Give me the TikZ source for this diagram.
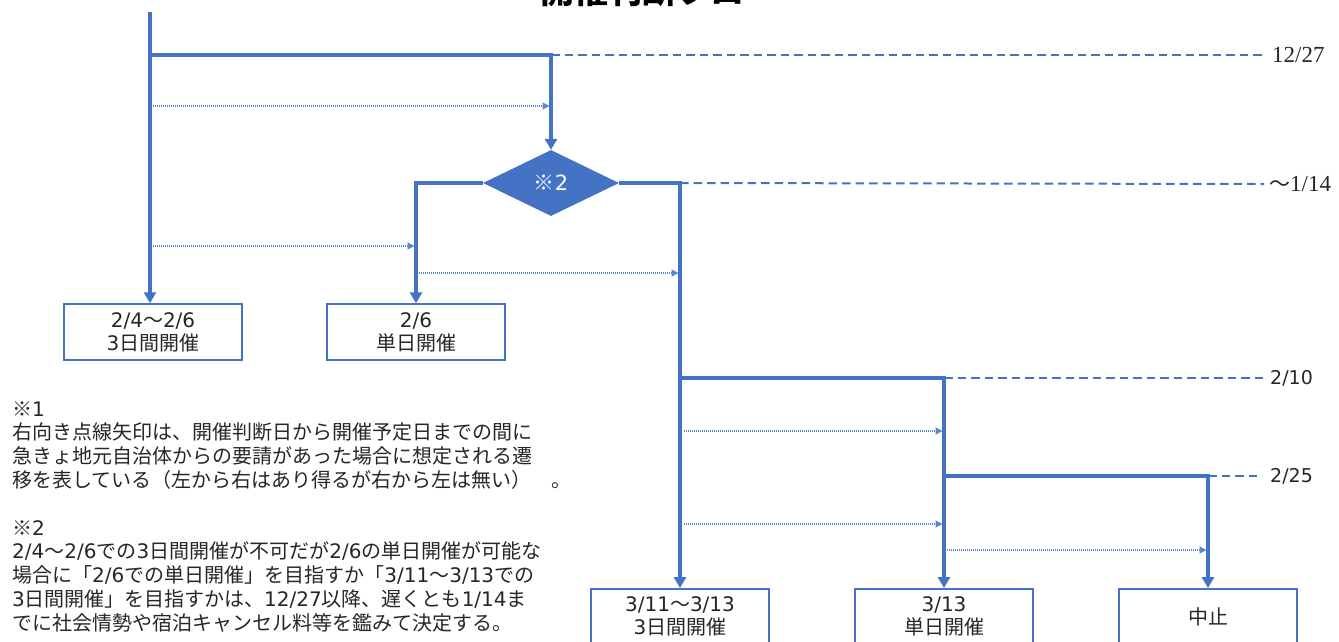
\documentclass[tikz,border=0pt]{standalone}
\usepackage{fontspec}
\setmainfont{Noto Sans CJK JP}
\newfontfamily\latf{DejaVu Sans}
\newfontfamily\serifd{Liberation Serif}
\usetikzlibrary{shapes.geometric,arrows.meta,calc}
\definecolor{mainblue}{HTML}{4472C4}
\definecolor{dotblue}{HTML}{5A86D3}
\definecolor{txt}{HTML}{262626}
\newcommand\Lt[1]{{\latf #1}}
\begin{document}
\begin{tikzpicture}[x=1pt,y=-1pt,
  flow/.style={mainblue,line width=3.5pt},
  flowarrow/.style={flow,-{Triangle[width=12pt,length=11pt]}},
  dateline/.style={mainblue,line width=2pt,dash pattern=on 8.5pt off 5pt},
  hintarrow/.style={dotblue,line width=1.2pt,dash pattern=on 1.2pt off 0.8pt,shorten >=1.5pt,-{Triangle[width=7pt,length=7pt]}},
  resultbox/.style={draw=mainblue,line width=1.5pt,minimum width=178pt,minimum height=56pt,inner sep=0pt,align=center,font=\fontsize{20}{23}\selectfont,text=txt},
  datelabel/.style={anchor=west,inner sep=0pt,text=txt},
]
\useasboundingbox (0,0) rectangle (1339,641);
\clip (0,0) rectangle (1339,641);

% title (cut off by the top edge, as in the reference)
\node[font=\fontsize{34}{40}\selectfont\bfseries,anchor=base,inner sep=0pt] (title) at (659,3.5) {開催判断フロー};

% result boxes
\node[resultbox] (b1) at (153,332) {\Lt{2/4}～\Lt{2/6}\\\Lt{3}日間開催};
\node[resultbox] (b2) at (416,332) {\Lt{2/6}\\単日開催};
\node[resultbox,anchor=north] (b3) at (680,588) {\Lt{3/11}～\Lt{3/13}\\\Lt{3}日間開催};
\node[resultbox,anchor=north] (b4) at (944,588) {\Lt{3/13}\\単日開催};
\node[resultbox,anchor=north] (b5) at (1208,588) {中止};

% decision diamond
\node[diamond,fill=mainblue,minimum width=136pt,minimum height=66pt,inner sep=0pt,text=white,font=\fontsize{21}{24}\selectfont] (dec) at (551,183) {※\Lt{2}};

% date labels
\node[datelabel,font=\serifd\fontsize{23}{26}\selectfont] (l1) at (1272,55) {12/27};
\node[datelabel,font=\fontsize{21}{24}\selectfont] (l2) at (1269,184) {～{\serifd\fontsize{23}{26}\selectfont 1/14}};
\node[datelabel,font=\latf\fontsize{19}{22}\selectfont] (l3) at (1270,378) {2/10};
\node[datelabel,font=\latf\fontsize{19}{22}\selectfont] (l4) at (1270,476) {2/25};

% junction coordinates
\coordinate (start) at (150,12);
\coordinate (br1) at (150,55);
\coordinate (br1r) at (551,55);
\coordinate (c2) at (680,183);
\coordinate (br3) at (680,378);
\coordinate (br3r) at (944,378);
\coordinate (br4) at (944,476);
\coordinate (br4r) at (1208,476);

% main flow
\draw[flowarrow] (start) -- (start |- b1.north);
\draw[flowarrow] (br1) -- (br1r) -- (dec.north);
\draw[flowarrow] (dec.west) -| (b2.north);
\draw[flowarrow] (dec.east) -| (b3.north);
\draw[flowarrow] (br3) -- (br3r) -- (b4.north);
\draw[flowarrow] (br4) -- (br4r) -- (b5.north);

% dashed date lines
\draw[dateline] (br1r) -- ([xshift=-10pt]l1.west);
\draw[dateline] (c2) -- ([xshift=-5pt]l2.west);
\draw[dateline] (br3r) -- ([xshift=-6pt]l3.west);
\draw[dateline] (br4r) -- ([xshift=-8pt]l4.west);

% dotted transition arrows
\coordinate (h1) at (153,106);
\coordinate (h2) at (153,246);
\coordinate (h3) at (419,273);
\coordinate (h4) at (684,431);
\coordinate (h5) at (684,524);
\coordinate (h6) at (947,550);
\draw[hintarrow] (h1) -- (h1 -| br1r);
\draw[hintarrow] (h2) -- (h2 -| b2.north);
\draw[hintarrow] (h3) -- (h3 -| b3.north);
\draw[hintarrow] (h4) -- (h4 -| b4.north);
\draw[hintarrow] (h5) -- (h5 -| b4.north);
\draw[hintarrow] (h6) -- (h6 -| b5.north);

% notes
\node[anchor=north west,inner sep=0pt,align=left,font=\fontsize{20}{23.8}\selectfont,text=txt] (notes) at (12,401) {%
※\Lt{1}\\
右向き点線矢印は、開催判断日から開催予定日までの間に\\
急きょ地元自治体からの要請があった場合に想定される遷\\
移を表している（左から右はあり得るが右から左は無い）　。\\[23.8pt]
※\Lt{2}\\
\Lt{2/4}～\Lt{2/6}での\Lt{3}日間開催が不可だが\Lt{2/6}の単日開催が可能な\\
場合に「\Lt{2/6}での単日開催」を目指すか「\Lt{3/11}～\Lt{3/13}での\\
\Lt{3}日間開催」を目指すかは、\Lt{12/27}以降、遅くとも\Lt{1/14}ま\\
でに社会情勢や宿泊キャンセル料等を鑑みて決定する。};
\end{tikzpicture}
\end{document}
